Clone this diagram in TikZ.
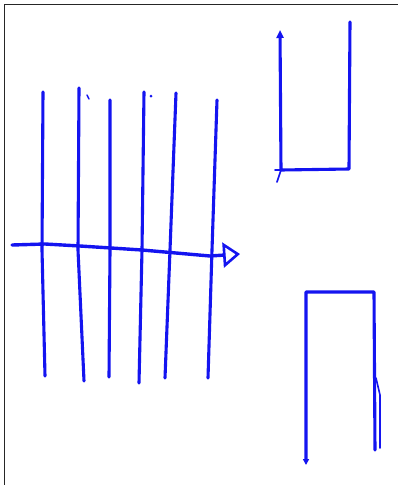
\documentclass[tikz,border=0pt]{standalone}
\usetikzlibrary{arrows.meta}
\definecolor{pen}{RGB}{20,20,240}
\tikzset{
  stroke/.style={draw=pen, line width=3.1pt, line cap=round, line join=round},
  frameline/.style={draw=black!85, line width=0.8pt}
}
\begin{document}
\begin{tikzpicture}[x=1pt,y=-1pt]
\useasboundingbox (0,0) rectangle (398,485);
\fill[white] (0,0) rectangle (398,485);
% frame
\draw[frameline] (4,485) -- (4,4) -- (398,4);
% vertical strokes
\draw[stroke] (43,92) -- (42,250) -- (45,376);
\draw[stroke] (79,88) -- (78,250) -- (84,381);
\draw[stroke] (110,100) -- (110,250) -- (109,377);
\draw[stroke] (144,92) -- (142,250) -- (139,383);
\draw[stroke] (176,93) -- (170,250) -- (165,378);
\draw[stroke] (217,100) -- (212,250) -- (208,378);
% small pen marks
\draw[stroke, line width=1.4pt] (87,95) -- (89,99);
\fill[pen] (151,96) circle (1.5pt);
% horizontal arrow
\coordinate (a0) at (12,245);
\coordinate (a1) at (240,254);
\draw[stroke, line width=3.4pt, -{Triangle[open, length=17pt, width=25pt, line width=2.6pt]}]
  (a0) -- (45,244) -- (80,246) -- (142,250) -- (210,256) -- (a1);
% upper U shape
\coordinate (u1) at (280,30);
\coordinate (u2) at (281,170);
\coordinate (u3) at (349,169);
\coordinate (u4) at (350,22);
\draw[stroke, {Triangle[length=8pt, width=7pt]}-] (u1) -- (u2) -- (u3) -- (u4);
\draw[stroke, line width=1.6pt] (275,170) -- (u2) -- (277,182);
% lower n shape
\coordinate (n1) at (306,465);
\coordinate (n2) at (306,292);
\coordinate (n3) at (374,292);
\coordinate (n4) at (375,450);
\draw[stroke, -{Triangle[length=6pt, width=6pt]}] (n4) -- (n3) -- (n2) -- (n1);
\draw[stroke, line width=1.6pt] (376,378) -- (380,395) -- (380,448);
\end{tikzpicture}
\end{document}
